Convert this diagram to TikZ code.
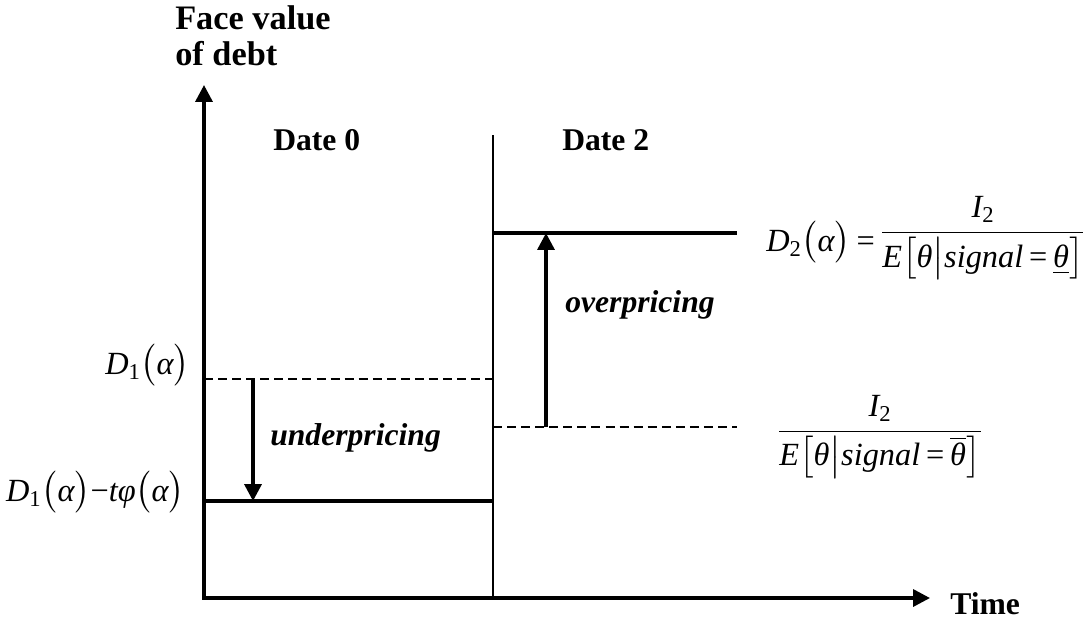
\documentclass[tikz,border=0pt]{standalone}
\usepackage{amsmath}
\usepackage{fontspec}
\setmainfont{Liberation Serif}
\usetikzlibrary{arrows.meta}
\newcommand\ti[1]{\text{\itshape #1}}
\newcommand\tu[1]{\text{#1}}
\newcommand\cond[1]{\ti{E}\bigl[\ti{θ}\big|\ti{signal}\,\tu{=}\,#1\bigr]}
\begin{document}
\begin{tikzpicture}[x={(0.025cm,0)}, y={(0,-0.025cm)},
  lbl/.style={font=\fontsize{22.5}{25.6}\selectfont\bfseries, inner sep=0},
  biglbl/.style={font=\fontsize{24.4}{27}\selectfont\bfseries, inner sep=0},
  ilbl/.style={font=\fontsize{22.5}{25.6}\selectfont\bfseries\itshape, inner sep=0},
  mathlbl/.style={font=\fontsize{23}{27}\selectfont, inner sep=0},
  axis/.style={line width=2.5pt, {Triangle[length=12pt,width=12pt]}-{Triangle[length=12pt,width=12pt]}},
  level/.style={line width=2.5pt},
  dashlevel/.style={line width=1.5pt, dash pattern=on 6.4pt off 3.6pt},
  shiftarrow/.style={line width=2.5pt, -{Triangle[length=12pt,width=12pt]}},
  divider/.style={line width=1.1pt}]
\useasboundingbox (0,0) rectangle (1083,621);
% coordinates
\coordinate (O) at (204,598);
\coordinate (ytip) at (204,85);
\coordinate (xtip) at (930,598);
\coordinate (divtop) at (493,135);
\coordinate (divbot) at (493,598);
\coordinate (d1L) at (204,379);
\coordinate (d1R) at (493,379);
\coordinate (d1tL) at (204,501);
\coordinate (d1tR) at (493,501);
\coordinate (d2L) at (493,233);
\coordinate (d2R) at (737,233);
\coordinate (bL) at (493,427);
\coordinate (bR) at (737,427);
\coordinate (uTop) at (253,379);
\coordinate (uBot) at (253,501);
\coordinate (oBot) at (546,427);
\coordinate (oTop) at (546,233);
% lines
\draw[divider] (divtop) -- (divbot);
\draw[dashlevel] (d1L) -- (d1R);
\draw[dashlevel] (bL) -- (bR);
\draw[level] (d1tL) -- (d1tR);
\draw[level] (d2L) -- (d2R);
\draw[axis] (ytip) -- (O) -- (xtip);
\draw[shiftarrow] (uTop) -- (uBot);
\draw[shiftarrow] (oBot) -- (oTop);
% labels
\node[biglbl, anchor=base west] (face1) at (175,29) {Face value};
\node[biglbl, anchor=base west] (face2) at (175,65) {of debt};
\node[lbl, anchor=base west] (date0) at (273,150) {Date 0};
\node[lbl, anchor=base west] (date2) at (562,150) {Date 2};
\node[lbl, anchor=base west] (time) at (950,614) {Time};
\node[ilbl, anchor=base west] (under) at (270,445) {underpricing};
\node[ilbl, anchor=base west] (over) at (565,312) {overpricing};
\node[mathlbl, anchor=base east] (d1) at (190,374) {$\ti{D}_{\tu{1}}\bigl(\ti{α}\bigr)$};
\node[mathlbl, anchor=base east] (d1t) at (185,501) {$\ti{D}_{\tu{1}}\bigl(\ti{α}\bigr)\tu{−}\ti{t}\ti{φ}\bigl(\ti{α}\bigr)$};
\node[mathlbl, anchor=base west] (d2) at (766,251) {$\ti{D}_{\tu{2}}\bigl(\ti{α}\bigr)\,\tu{=}\,\raisebox{7pt}{$\dfrac{\ti{I}_{\tu{2}}}{\cond{\underline{\ti{θ}}}}$}$};
\node[mathlbl, anchor=base] (bfrac) at (880,440) {$\dfrac{\ti{I}_{\tu{2}}}{\cond{\overline{\ti{θ}}}}$};
\end{tikzpicture}
\end{document}
